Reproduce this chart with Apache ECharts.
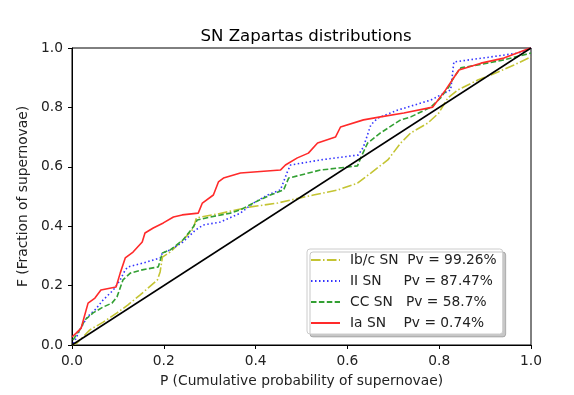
<!DOCTYPE html>
<html>
<head>
<meta charset="utf-8">
<script src="https://cdn.jsdelivr.net/npm/echarts@6/dist/echarts.min.js"></script>
<style>
  html, body { margin: 0; padding: 0; background: #fff; }
  #chart { width: 574px; height: 395px; }
</style>
</head>
<body>
<div id="chart"></div>
<script>
// cumulative curves, [P, F] pairs
const ibcSN = [
  [0, 0], [0.011, 0.007], [0.039, 0.051], [0.068, 0.077], [0.098, 0.108], [0.122, 0.135],
  [0.148, 0.168], [0.186, 0.219], [0.192, 0.246], [0.197, 0.296], [0.214, 0.313],
  [0.242, 0.354], [0.264, 0.391], [0.271, 0.428], [0.317, 0.441], [0.389, 0.465],
  [0.448, 0.478], [0.476, 0.488], [0.526, 0.505], [0.579, 0.522], [0.622, 0.545],
  [0.651, 0.579], [0.688, 0.623], [0.716, 0.680], [0.738, 0.714], [0.775, 0.747],
  [0.799, 0.781], [0.819, 0.832], [0.841, 0.859], [0.884, 0.892], [0.928, 0.919],
  [0.963, 0.943], [1.0, 0.970]
];
const iiSN = [
  [0.003, 0.005], [0.007, 0.017], [0.017, 0.051], [0.033, 0.094], [0.050, 0.118], [0.068, 0.152],
  [0.090, 0.185], [0.105, 0.219], [0.116, 0.253], [0.122, 0.263], [0.155, 0.276],
  [0.192, 0.293], [0.197, 0.310], [0.214, 0.320], [0.242, 0.347], [0.269, 0.387],
  [0.286, 0.404], [0.323, 0.414], [0.367, 0.444], [0.395, 0.478], [0.426, 0.505],
  [0.454, 0.522], [0.469, 0.582], [0.476, 0.606], [0.541, 0.623], [0.624, 0.640],
  [0.635, 0.667], [0.651, 0.741], [0.666, 0.764], [0.710, 0.791], [0.782, 0.825],
  [0.825, 0.859], [0.832, 0.953], [0.913, 0.970], [0.972, 0.983], [1.0, 1.0]
];
const ccSN = [
  [0.002, 0.017], [0.017, 0.051], [0.028, 0.084], [0.046, 0.108], [0.068, 0.128], [0.087, 0.141],
  [0.098, 0.162], [0.111, 0.219], [0.127, 0.242], [0.153, 0.253], [0.188, 0.263],
  [0.197, 0.310], [0.214, 0.320], [0.242, 0.354], [0.264, 0.397], [0.273, 0.421],
  [0.301, 0.431], [0.345, 0.444], [0.367, 0.455], [0.395, 0.478], [0.432, 0.505],
  [0.461, 0.522], [0.472, 0.562], [0.541, 0.589], [0.622, 0.603], [0.629, 0.630],
  [0.644, 0.680], [0.672, 0.714], [0.716, 0.758], [0.738, 0.768], [0.782, 0.801],
  [0.803, 0.832], [0.821, 0.869], [0.832, 0.902], [0.847, 0.933], [0.884, 0.943],
  [0.941, 0.960], [1.0, 0.983]
];
const iaSN = [
  [0, 0.027], [0.009, 0.040], [0.020, 0.057], [0.026, 0.091], [0.035, 0.141], [0.050, 0.158],
  [0.063, 0.185], [0.085, 0.192], [0.096, 0.195], [0.105, 0.242], [0.116, 0.293],
  [0.133, 0.313], [0.153, 0.347], [0.159, 0.377], [0.177, 0.394], [0.199, 0.411],
  [0.221, 0.431], [0.240, 0.438], [0.275, 0.444], [0.284, 0.478], [0.308, 0.505],
  [0.319, 0.549], [0.330, 0.562], [0.367, 0.579], [0.454, 0.589], [0.465, 0.606],
  [0.491, 0.630], [0.515, 0.646], [0.535, 0.680], [0.574, 0.700], [0.585, 0.734],
  [0.635, 0.758], [0.672, 0.768], [0.723, 0.781], [0.786, 0.801], [0.814, 0.859],
  [0.843, 0.926], [0.891, 0.949], [0.941, 0.966], [0.993, 0.997], [1.0, 1.0]
];
const diagonal = [[0, 0], [1, 1]];

const seriesNames = [
  'Ib/c SN  Pv = 99.26%',
  'II SN     Pv = 87.47%',
  'CC SN   Pv = 58.7%',
  'Ia SN    Pv = 0.74%'
];

const font = 'DejaVu Sans';
const fs = 13.8;
const chart = echarts.init(document.getElementById('chart'), null, { renderer: 'canvas' });

function lineSeries(name, data, color, type) {
  return {
    name: name,
    type: 'line',
    data: data,
    symbol: 'none',
    lineStyle: { color: color, width: 1.6, type: type },
    itemStyle: { color: color },
    z: 3
  };
}

const axisCommon = {
  type: 'value',
  min: 0,
  max: 1,
  interval: 0.2,
  splitLine: { show: false },
  axisLine: { show: true, onZero: false, lineStyle: { color: '#000', width: 1 } },
  axisTick: { show: true, inside: false, length: 4, lineStyle: { color: '#000' } },
  axisLabel: {
    color: '#222', fontFamily: font, fontSize: fs, margin: 9,
    formatter: v => v.toFixed(1)
  },
  nameLocation: 'middle',
  nameTextStyle: { color: '#222', fontFamily: font, fontSize: fs }
};

chart.setOption({
  backgroundColor: '#fff',
  animation: false,
  title: {
    text: 'SN Zapartas distributions',
    left: 301, top: 23,
    textAlign: 'center',
    textStyle: { color: '#000', fontFamily: font, fontSize: 16.6, fontWeight: 'normal' }
  },
  grid: {
    left: 72, top: 48, right: 43, bottom: 50,
    show: true, borderColor: '#000', borderWidth: 1, backgroundColor: 'transparent'
  },
  xAxis: Object.assign({}, axisCommon, {
    name: 'P (Cumulative probability of supernovae)',
    nameGap: 29
  }),
  yAxis: Object.assign({}, axisCommon, {
    name: 'F (Fraction of supernovae)',
    nameGap: 42
  }),
  legend: {
    orient: 'vertical',
    left: 307, top: 249,
    data: seriesNames,
    itemWidth: 29, itemHeight: 14, itemGap: 7,
    padding: [4, 6, 4, 3],
    itemStyle: { opacity: 0 },
    backgroundColor: '#fff',
    borderColor: '#ccc', borderWidth: 1, borderRadius: 3,
    shadowColor: 'rgba(0,0,0,0.22)', shadowOffsetX: 3, shadowOffsetY: 3, shadowBlur: 0,
    textStyle: { color: '#222', fontFamily: font, fontSize: fs, padding: [0, 0, 0, 5] }
  },
  series: [
    lineSeries(seriesNames[0], ibcSN, '#c4c433', [9.6, 2.4, 1.5, 2.4]),
    lineSeries(seriesNames[1], iiSN, '#3333ff', [1.5, 2.5]),
    lineSeries(seriesNames[2], ccSN, '#33a033', [5.5, 2.4]),
    lineSeries(seriesNames[3], iaSN, '#ff2a2a', 'solid'),
    {
      type: 'line', data: diagonal, symbol: 'none', silent: true,
      lineStyle: { color: '#000', width: 1.5 }, z: 4
    }
  ]
});
</script>
</body>
</html>
